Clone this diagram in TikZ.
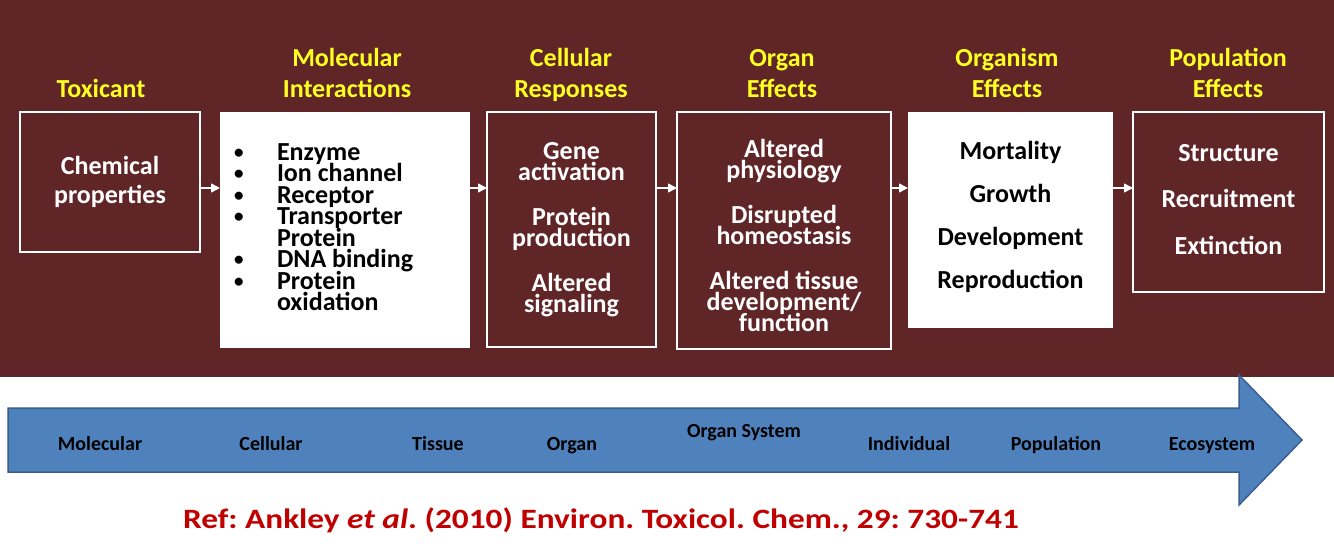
\documentclass[tikz,border=0pt]{standalone}
\usepackage{fontspec}
\setmainfont{Carlito}
\newfontfamily\reffont[FakeStretch=1.19]{Carlito}
\usepackage{tikz}
\usetikzlibrary{positioning,arrows.meta}

\definecolor{maroonbg}{HTML}{602527}
\definecolor{titleyellow}{HTML}{FFFF22}
\definecolor{scaleblue}{HTML}{4F81BD}
\definecolor{scaleedge}{HTML}{3A5F8F}
\definecolor{refred}{HTML}{C00000}

\newcommand{\listdot}{\makebox[43pt][l]{\raisebox{2pt}{\fontsize{19}{19}\selectfont\textbullet}}}
\newcommand{\lift}[1]{\rule[-#1]{0pt}{#1}}

\begin{document}
\begin{tikzpicture}[
    x=1pt, y=-1pt,
    every node/.style={inner sep=0pt, outer sep=0pt},
    title/.style={text=titleyellow, align=center, anchor=base, font=\fontsize{26}{31}\selectfont\bfseries},
    darkbox/.style={draw=white, line width=2pt, fill=maroonbg, text=white, align=center,
        font={\fontsize{26}{21}\selectfont\bfseries\lineskiplimit=-30pt}},
    whitebox/.style={darkbox, draw=none, fill=white, text=black},
    flow/.style={-{Triangle[length=9pt, width=9pt]}, draw=white, line width=1.5pt},
    level/.style={anchor=base, font=\fontsize{20}{24}\selectfont\bfseries}
]
    \useasboundingbox (0,0) rectangle (1334,550);
    \fill[white] (0,0) rectangle (1334,550);
    \fill[maroonbg] (0,0) rectangle (1334,377);

    % pathway boxes
    \node (tox) [darkbox, minimum width=180pt, minimum height=140pt, font={\fontsize{26}{29}\selectfont\bfseries}, anchor=north west] at (20,112) {Chemical\\properties};
    \node (mol) [whitebox, align=flush left, text width=222pt, inner xsep=14pt, minimum height=236pt,
        font={\fontsize{26}{21.5}\selectfont\bfseries\lineskiplimit=-30pt}, right=20pt of tox.north east, anchor=north west]
        {\listdot Enzyme\\\listdot Ion channel\\\listdot Receptor\\\listdot Transporter\\\hspace*{43pt}Protein\\\listdot DNA binding\\\listdot Protein\\\hspace*{43pt}oxidation\lift{6pt}};
    \node (cel) [darkbox, minimum width=169pt, minimum height=235pt, right=17pt of mol.north east, anchor=north west]
        {Gene\\activation\\[24pt]Protein\\production\\[24pt]Altered\\signaling};
    \node (org) [darkbox, minimum width=214pt, minimum height=237pt, right=21pt of cel.north east, anchor=north west]
        {\rule{0pt}{28pt}Altered\\physiology\\[24pt]Disrupted\\homeostasis\\[24pt]Altered tissue\\development/\\function};
    \node (orgm) [whitebox, minimum width=205pt, minimum height=216pt, right=17pt of org.north east, anchor=north west]
        {Mortality\\[22pt]Growth\\[22pt]Development\\[22pt]Reproduction\lift{11pt}};
    \node (pop) [darkbox, minimum width=191pt, minimum height=180pt, right=20pt of orgm.north east, anchor=north west]
        {Structure\\[25.5pt]Recruitment\\[25.5pt]Extinction\lift{6pt}};

    % headings
    \node (toxT) [title] at (101,97) {Toxicant};
    \node (molT) [title] at (347,97) {Molecular\\Interactions};
    \node (celT) [title] at (571,97) {Cellular\\Responses};
    \node (orgT) [title] at (782,97) {Organ\\Effects};
    \node (orgmT) [title] at (1007,97) {Organism\\Effects};
    \node (popT) [title] at (1228,97) {Population\\Effects};

    % small arrows between boxes
    \coordinate (flowline) at (0,188);
    \draw [flow] (tox.east |- flowline) -- (mol.west |- flowline);
    \draw [flow] (mol.east |- flowline) -- (cel.west |- flowline);
    \draw [flow] (cel.east |- flowline) -- (org.west |- flowline);
    \draw [flow] (org.east |- flowline) -- (orgm.west |- flowline);
    \draw [flow] (orgm.east |- flowline) -- (pop.west |- flowline);

    % level of organisation arrow
    \filldraw [fill=scaleblue, draw=scaleedge, line width=1.5pt, line join=miter]
        (8,408) -- (1239,408) -- (1239,375) -- (1302,440) -- (1239,505) -- (1239,472) -- (8,472) -- cycle;
    \node (lvMol) [level] at (100,450) {Molecular};
    \node (lvCel) [level] at (271,450) {Cellular};
    \node (lvTis) [level] at (438,450) {Tissue};
    \node (lvOrg) [level] at (572,450) {Organ};
    \node (lvSys) [level] at (744,437) {Organ System};
    \node (lvInd) [level] at (909,450) {Individual};
    \node (lvPop) [level] at (1056,450) {Population};
    \node (lvEco) [level] at (1212,450) {Ecosystem};

    % reference
    \node (ref) [anchor=base, text=refred, font=\reffont\fontsize{28}{34}\selectfont\bfseries\frenchspacing] at (601,528)
        {Ref: Ankley \textit{et al}. (2010) Environ. Toxicol. Chem., 29: 730-741};
\end{tikzpicture}
\end{document}
